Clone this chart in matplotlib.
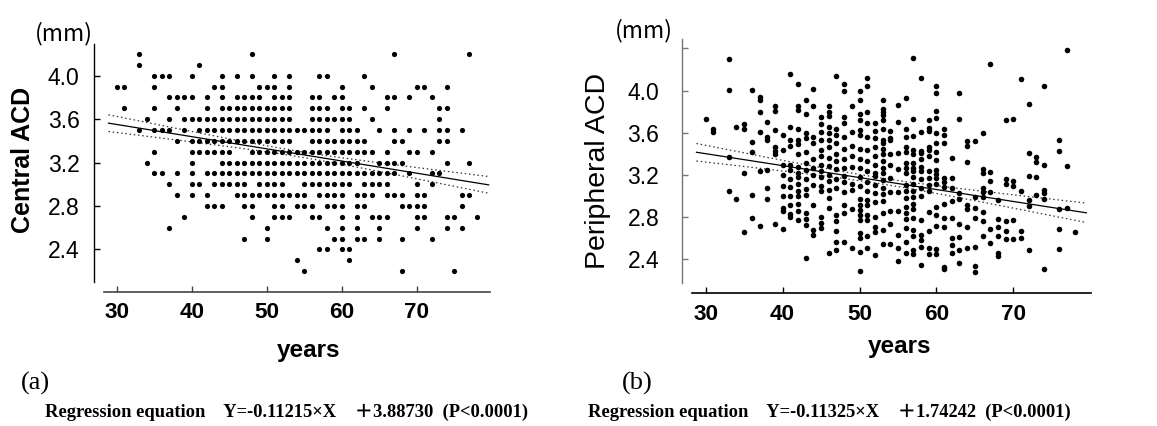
import numpy as np
import matplotlib
matplotlib.use('Agg')
import matplotlib.pyplot as plt
from matplotlib import font_manager

# ---------------- data ----------------
# (a) Central ACD: measured levels (mm) and the ages observed at each level
central_levels = [4.2, 4.1, 4.0, 3.9, 3.8, 3.7, 3.6, 3.5, 3.4, 3.3, 3.2,
                  3.1, 3.0, 2.9, 2.8, 2.7, 2.6, 2.5, 2.4, 2.3, 2.2]
central_ages = [
    [33, 48, 67, 77],
    [33, 41],
    [35, 36, 37, 40, 44, 46, 48, 51, 53, 57, 58, 63],
    [30, 31, 35, 43, 44, 49, 50, 51, 53, 60, 64, 70, 71, 74],
    [37, 38, 39, 40, 42, 44, 46, 47, 48, 49, 51, 52, 53, 56, 57, 59, 60, 66, 67, 69, 72],
    [31, 35, 38, 42, 44, 45, 46, 47, 48, 49, 50, 51, 52, 53, 56, 57, 58, 60, 61, 63, 66, 73, 74],
    [34, 37, 39, 40, 41, 42, 43, 44, 45, 46, 47, 48, 49, 50, 51, 52, 53, 56, 57, 58, 59, 60, 61, 64, 73],
    [33, 35, 36, 37, 39, 41, 42, 43, 44, 45, 46, 47, 48, 49, 50, 51, 52, 53, 54, 55, 56, 57, 58,
     60, 61, 62, 65, 67, 69, 71, 73, 74, 76],
    [38, 40, 41, 42, 43, 44, 45, 46, 47, 48, 49, 50, 51, 52, 53, 56, 57, 58, 59, 60, 61, 62, 63,
     67, 68, 73, 74],
    [35, 40, 41, 42, 43, 44, 45, 48, 49, 50, 51, 52, 53, 54, 55, 56, 57, 58, 59, 60, 61, 62, 63, 64,
     66, 69, 70, 72],
    [34, 40, 44, 45, 46, 47, 48, 49, 50, 51, 52, 53, 54, 55, 56, 57, 58, 59, 60, 61, 62,
     65, 66, 67, 68, 74, 77],
    [35, 36, 38, 40, 42, 43, 44, 45, 46, 47, 48, 49, 50, 51, 52, 53, 54, 55, 56, 57, 58, 59, 60,
     61, 62, 63, 64, 65, 66, 67, 69, 72, 73],
    [37, 40, 41, 43, 44, 45, 46, 47, 49, 50, 51, 52, 55, 56, 57, 58, 59, 60, 61, 63, 64, 65, 66, 70, 72],
    [38, 40, 42, 46, 47, 48, 49, 50, 51, 52, 53, 54, 55, 57, 58, 59, 60, 62, 63, 64, 66, 67, 68,
     70, 71, 76, 77],
    [42, 43, 44, 47, 48, 51, 52, 54, 55, 56, 58, 59, 60, 62, 63, 68, 69, 70, 71, 76],
    [39, 48, 51, 52, 53, 56, 57, 60, 62, 64, 65, 66, 70, 71, 74, 75, 78],
    [37, 50, 58, 60, 62, 65, 70, 74, 76],
    [47, 50, 59, 60, 62, 63, 65, 68, 72],
    [57, 58, 60, 61],
    [54, 61],
    [55, 68, 75],
]

# (b) Peripheral ACD: ages and the values observed at each age
periph_ages = [30, 31, 33, 34, 35, 36, 37, 38, 39, 40, 41, 42, 43, 44, 45, 46, 47, 48, 49, 50,
               51, 52, 53, 54, 55, 56, 57, 58, 59, 60, 61, 62, 63, 64, 65, 66, 67, 68, 69, 70,
               71, 72, 73, 74, 76, 77, 78]
periph_values = [
    [3.73],
    [3.64, 3.61],
    [4.30, 4.01, 3.37, 3.05],
    [3.66, 2.97],
    [3.68, 3.64, 3.22, 2.66],
    [4.01, 3.51, 3.42, 3.01, 2.79],
    [3.94, 3.91, 3.80, 3.61, 3.24, 2.72],
    [3.70, 3.56, 3.53, 3.25, 3.08, 2.97],
    [3.85, 3.81, 3.63, 3.47, 3.43, 3.40, 2.74],
    [3.58, 3.44, 3.30, 3.20, 3.10, 3.00, 2.89, 2.86, 2.69],
    [4.16, 3.66, 3.53, 3.48, 3.30, 3.25, 3.16, 3.09, 3.00, 2.92, 2.83, 2.80],
    [4.06, 3.85, 3.82, 3.64, 3.53, 3.49, 3.40, 3.28, 3.22, 3.18, 3.12, 3.05, 3.00, 2.93, 2.86, 2.77],
    [3.91, 3.78, 3.60, 3.55, 3.42, 3.31, 3.25, 3.16, 3.07, 3.01, 2.84, 2.78, 2.73, 2.41],
    [4.02, 3.85, 3.56, 3.50, 3.35, 3.27, 3.20, 3.11, 2.92, 2.68, 2.63],
    [3.75, 3.68, 3.61, 3.53, 3.44, 3.38, 3.30, 3.24, 3.18, 3.10, 3.05, 2.80, 2.75, 2.70],
    [3.85, 3.80, 3.76, 3.66, 3.60, 3.53, 3.47, 3.36, 3.29, 3.20, 3.14, 3.06, 2.98, 2.89, 2.46],
    [4.14, 3.64, 3.58, 3.50, 3.40, 3.33, 3.26, 3.16, 3.08, 2.82, 2.76, 2.67, 2.57, 2.49],
    [4.06, 4.00, 3.75, 3.69, 3.56, 3.45, 3.35, 3.27, 3.19, 3.13, 3.04, 2.92, 2.84, 2.57],
    [3.85, 3.61, 3.48, 3.38, 3.28, 3.12, 3.06, 2.88, 2.51],
    [4.00, 3.91, 3.78, 3.72, 3.63, 3.58, 3.45, 3.35, 3.27, 3.18, 3.10, 2.97, 2.92, 2.87, 2.82,
     2.77, 2.65, 2.60, 2.47, 2.29],
    [4.12, 4.04, 3.80, 3.69, 3.56, 3.44, 3.33, 3.24, 3.13, 3.05, 2.96, 2.92, 2.82, 2.77, 2.62, 2.51],
    [3.69, 3.62, 3.55, 3.47, 3.38, 3.30, 3.22, 3.19, 3.11, 3.03, 2.94, 2.80, 2.71, 2.66, 2.44],
    [3.91, 3.83, 3.80, 3.77, 3.72, 3.64, 3.53, 3.50, 3.45, 3.40, 3.33, 3.27, 3.22, 3.15, 3.08,
     3.02, 2.95, 2.84, 2.68, 2.55],
    [3.62, 3.55, 3.53, 3.40, 3.30, 3.17, 3.04, 2.86, 2.74, 2.55],
    [3.86, 3.70, 3.41, 3.26, 3.04, 2.86, 2.63, 2.51, 2.39],
    [3.93, 3.64, 3.56, 3.47, 3.42, 3.31, 3.27, 3.22, 3.11, 3.05, 2.98, 2.90, 2.84, 2.78, 2.70,
     2.57, 2.46],
    [4.31, 3.73, 3.57, 3.44, 3.40, 3.31, 3.27, 3.24, 3.18, 3.12, 3.05, 2.99, 2.93, 2.88, 2.79,
     2.68, 2.62, 2.49, 2.45],
    [4.12, 3.61, 3.43, 3.41, 3.35, 3.28, 3.24, 3.16, 3.08, 3.00, 2.77, 2.63, 2.58, 2.52, 2.35],
    [3.72, 3.65, 3.62, 3.47, 3.44, 3.38, 3.24, 3.17, 3.11, 3.05, 2.85, 2.67, 2.51, 2.45],
    [4.04, 3.98, 3.81, 3.74, 3.60, 3.50, 3.42, 3.34, 3.25, 3.21, 3.17, 3.12, 2.90, 2.82, 2.72,
     2.50, 2.45],
    [3.64, 3.58, 3.50, 3.17, 3.13, 3.09, 2.93, 2.79, 2.71, 2.33, 2.31],
    [3.36, 3.17, 3.08, 2.95, 2.79, 2.60, 2.54, 2.46],
    [3.98, 3.73, 3.03, 2.97, 2.74, 2.61, 2.49, 2.37],
    [3.52, 3.48, 3.32, 2.92, 2.88, 2.71, 2.51],
    [3.52, 2.99, 2.89, 2.79, 2.52, 2.34, 2.28],
    [3.60, 3.26, 3.22, 3.08, 3.04, 2.99, 2.85, 2.76, 2.62],
    [4.25, 3.23, 3.14, 3.04, 2.69, 2.56],
    [2.96, 2.78, 2.71, 2.62, 2.46, 2.43],
    [3.72, 3.16, 3.12, 2.76, 2.67, 2.59],
    [3.73, 3.14, 3.10, 2.77, 2.59],
    [4.11, 3.05, 2.67, 2.60],
    [3.87, 3.41, 3.19, 2.96, 2.91, 2.49],
    [3.37, 3.32, 3.18, 3.01],
    [4.04, 3.30, 3.06, 3.03, 2.97, 2.31],
    [3.53, 3.43, 2.88, 2.69, 2.50],
    [4.39, 3.29, 2.89],
    [2.66],
]

# regression coefficients (X = age in decades)
slope_a, icpt_a = -0.11215, 3.88730
slope_b, icpt_b = -0.11325, 3.74242
# 95% confidence band: (centre age, half-width at centre, growth per year)
band_a = (54.25, 0.025, 0.00287)
band_b = (52.7, 0.028, 0.00327)

x_ticks = [30, 40, 50, 60, 70]
y_ticks_a = [2.4, 2.8, 3.2, 3.6, 4.0]
y_ticks_b = [2.4, 2.8, 3.2, 3.6, 4.0, 4.4]
y_labels_b = ['2.4', '2.8', '3.2', '3.6', '4.0', '']

eq_a = "Regression equation    Y=-0.11215×X    \uff0b3.88730  (P<0.0001)"
eq_b = "Regression equation    Y=-0.11325×X    \uff0b1.74242  (P<0.0001)"

# ---------------- fonts ----------------
def pick(*names):
    for n in names:
        try:
            font_manager.findfont(font_manager.FontProperties(family=n), fallback_to_default=False)
            return n
        except Exception:
            pass
    return 'DejaVu Sans'

SANS = pick('Liberation Sans', 'Arial', 'DejaVu Sans')
SERIF = pick('Liberation Serif', 'DejaVu Serif')
CJK = pick('Noto Sans CJK JP', 'Noto Sans CJK SC')

# ---------------- figure ----------------
W, H = 1157, 426
fig = plt.figure(figsize=(W / 100, H / 100), dpi=100)


def box(l, t, r, b):
    return [l / W, 1 - b / H, (r - l) / W, (b - t) / H]


def px2pt(p):
    return p * 72 / 100


ax1 = fig.add_axes(box(103.6, 44.3, 490.4, 281.7))
ax2 = fig.add_axes(box(691.7, 39.3, 1090.7, 283.3))


def reg_lines(ax, slope, icpt, band, x0, x1):
    xm, h0, k = band
    xs = np.linspace(x0, x1, 300)
    yl = icpt + slope * xs / 10
    hw = np.sqrt(h0 ** 2 + (k * (xs - xm)) ** 2)
    ax.plot(xs, yl, color='black', lw=0.9, zorder=3)
    ax.plot(xs, yl + hw, color='#333333', lw=0.9, ls=(0, (1.2, 2.2)), zorder=3)
    ax.plot(xs, yl - hw, color='#333333', lw=0.9, ls=(0, (1.2, 2.2)), zorder=3)


# panel a points
ax_x, ax_y = [], []
for lev, ages in zip(central_levels, central_ages):
    for a in ages:
        ax_x.append(a)
        ax_y.append(lev)
ax1.scatter(ax_x, ax_y, s=14, color='black', linewidths=0, zorder=4)
reg_lines(ax1, slope_a, icpt_a, band_a, 28.9, 79.6)

# panel b points
bx_x, bx_y = [], []
for a, vals in zip(periph_ages, periph_values):
    for v in vals:
        bx_x.append(a)
        bx_y.append(v)
ax2.scatter(bx_x, bx_y, s=16, color='black', linewidths=0, zorder=4)
reg_lines(ax2, slope_b, icpt_b, band_b, 28.8, 79.5)

ax1.set_xlim(28.25, 79.83)
ax1.set_ylim(2.103, 4.289)
ax2.set_xlim(28.18, 80.06)
ax2.set_ylim(2.174, 4.487)

for ax, yt, yl, ypad, lcol, bcol in [
        (ax1, y_ticks_a, [f'{v:.1f}' for v in y_ticks_a], 10.5, 'black', '#444444'),
        (ax2, y_ticks_b, y_labels_b, 16.5, '#777777', 'black')]:
    for sp in ['top', 'right']:
        ax.spines[sp].set_visible(False)
    ax.spines['left'].set_position(('outward', px2pt(9.5)))
    ax.spines['bottom'].set_position(('outward', px2pt(10)))
    ax.spines['left'].set_color(lcol)
    ax.spines['bottom'].set_color(bcol)
    ax.spines['left'].set_linewidth(1.0)
    ax.spines['bottom'].set_linewidth(1.2)
    ax.patch.set_visible(False)
    ax.set_xticks(x_ticks)
    ax.set_xticklabels([str(t) for t in x_ticks])
    ax.set_yticks(yt)
    ax.set_yticklabels(yl)
    ax.tick_params(axis='x', direction='in', length=4, width=1.0, pad=7.5, color=bcol,
                   labelcolor='black', labelsize=16.2, labelfontfamily=SANS)
    ax.tick_params(axis='y', direction='in', length=4, width=1.0, pad=ypad, color=lcol,
                   labelcolor='black', labelsize=16.5, labelfontfamily=SANS)
    for lbl in ax.get_xticklabels():
        lbl.set_fontweight('bold')

# axis titles
fig.text(23 / W, 1 - 160 / H, 'Central ACD', rotation=90, ha='center', va='center',
         fontfamily=SANS, fontweight='bold', fontsize=18)
fig.text(598 / W, 1 - 171 / H, 'Peripheral ACD', rotation=90, ha='center', va='center',
         fontfamily=SANS, fontsize=20.5)
fig.text(309 / W, 1 - 356.5 / H, 'years', ha='center', va='baseline',
         fontfamily=SANS, fontweight='bold', fontsize=17.5)
fig.text(900 / W, 1 - 353.3 / H, 'years', ha='center', va='baseline',
         fontfamily=SANS, fontweight='bold', fontsize=17.5)
fig.text(64 / W, 1 - 34 / H, '(mm)', ha='center', va='center', fontfamily=CJK, fontsize=16.5)
fig.text(644 / W, 1 - 31 / H, '(mm)', ha='center', va='center', fontfamily=CJK, fontsize=16.5)

# panel letters
fig.text(35 / W, 1 - 383 / H, '(a)', ha='center', va='center', fontfamily=SERIF, fontsize=19)
fig.text(637 / W, 1 - 383 / H, '(b)', ha='center', va='center', fontfamily=SERIF, fontsize=19)

# regression equations
fig.text(45 / W, 1 - 412 / H, eq_a, ha='left', va='center', fontfamily=[SERIF, CJK],
         fontweight='bold', fontsize=13.3)
fig.text(588 / W, 1 - 412 / H, eq_b, ha='left', va='center', fontfamily=[SERIF, CJK],
         fontweight='bold', fontsize=13.3)

fig.savefig('out.png', dpi=100)
